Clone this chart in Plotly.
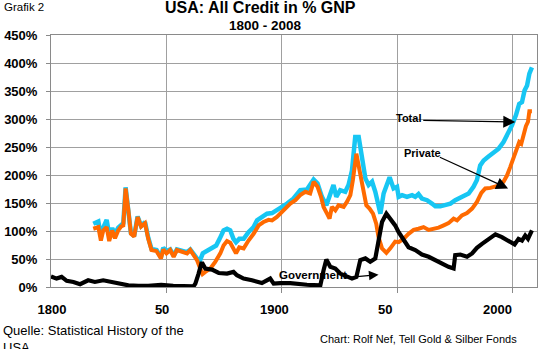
import plotly.graph_objects as go

# ---------------- data ----------------
total_years = [1818.3,1820.5,1821.6,1822.6,1824.1,1825.2,1826.5,1827.7,1829.1,1830.3,
               1831.3,1832.3,1833.5,1834.6,1836.0,1837.5,1839.0,1840.7,1842.1,1843.5,
               1845.7,1847.6,1848.6,1850.0,1851.6,1853.1,1854.5,1856.7,1858.9,1860.3,
               1861.7,1863.2,1864.3,1865.7,1867.9,1870.0,1871.5,1873.0,1874.7,1876.2,
               1877.6,1879.0,1880.1,1881.5,1883.4,1885.5,1887.7,1889.2,1891.3,1893.5,
               1895.7,1897.8,1899.3,1902.2,1905.0,1907.9,1910.8,1913.7,1915.4,1917.3,
               1919.2,1920.9,1922.3,1923.5,1925.2,1927.4,1928.8,1930.3,1931.7,1933.2,
               1934.6,1936.1,1937.5,1939.0,1940.4,1941.8,1942.6,1944.0,1945.5,1946.6,
               1948.3,1949.8,1950.5,1952.0,1954.1,1956.3,1957.7,1959.1,1960.6,1962.8,
               1964.9,1966.4,1968.5,1970.7,1972.9,1975.0,1977.9,1980.8,1982.9,1984.4,
               1985.8,1987.3,1989.4,1991.6,1993.8,1995.9,1997.8,1999.6,2001.3,2002.7,
               2003.9,2005.0,2006.1,2007.1,2008.2]
total_vals = [113,117,90,106,120,92,105,95,106,112,
              114,178,138,96,91,126,109,116,88,68,
              66,53,70,64,67,56,67,64,62,67,
              60,52,45,60,66,70,74,86,101,104,
              101,86,80,86,86,98,107,119,125,131,
              132,137,140,149,158,173,174,192,185,161,
              146,167,182,161,173,170,182,208,268,268,
              226,194,182,188,170,149,131,167,185,196,
              176,179,161,164,161,164,161,166,158,155,
              149,144,144,146,149,155,161,167,179,191,
              217,226,233,241,247,259,274,289,307,327,
              330,351,360,381,392]

private_years = [1818.3,1820.5,1821.6,1822.6,1824.1,1825.2,1826.5,1827.7,1829.1,1830.3,
                 1831.3,1832.3,1833.5,1834.6,1836.0,1837.5,1839.0,1840.7,1842.1,1843.5,
                 1845.7,1847.6,1848.6,1850.0,1851.6,1853.1,1854.5,1856.7,1858.9,1860.3,
                 1861.7,1863.2,1864.6,1865.6,1866.8,1869.0,1871.1,1873.3,1874.7,1876.2,
                 1877.6,1879.0,1880.1,1881.5,1883.4,1885.5,1887.7,1889.9,1892.0,1894.2,
                 1895.7,1897.8,1899.3,1901.4,1903.6,1905.8,1907.9,1910.1,1912.2,1913.7,
                 1915.4,1916.9,1918.0,1919.5,1920.6,1921.6,1923.1,1924.5,1926.7,1928.1,
                 1929.6,1930.7,1932.2,1933.6,1935.1,1936.5,1937.9,1939.4,1940.8,1941.8,
                 1943.3,1945.2,1946.9,1949.0,1950.5,1952.6,1954.8,1957.0,1959.1,1961.3,
                 1963.5,1965.6,1967.8,1970.0,1972.1,1974.3,1975.8,1977.9,1980.1,1982.3,
                 1984.4,1986.3,1988.0,1990.2,1992.4,1994.5,1995.9,1997.4,1998.8,2000.3,
                 2001.7,2002.7,2003.6,2004.6,2005.6,2006.5,2007.1,2008.2]
private_vals = [104,107,83,101,107,82,101,87,101,108,
                110,176,137,95,90,125,108,114,86,66,
                64,51,67,60,66,54,66,63,60,66,
                57,48,33,23,27,33,45,60,74,82,
                79,69,60,71,69,83,95,110,116,120,
                119,125,131,140,149,155,164,170,167,188,
                179,161,143,131,122,143,137,146,143,152,
                164,191,238,208,179,146,140,131,113,89,
                69,61,69,81,80,86,95,102,104,107,
                102,104,106,110,114,122,119,128,132,140,
                152,168,176,177,179,182,188,199,214,232,
                244,259,256,274,287,295,314,314]

gov_years = [1800,1802.4,1804.6,1806.8,1809.7,1812.6,1816.1,1819.0,1822.6,1826.2,
             1829.9,1833.5,1837.8,1842.1,1847.7,1852.9,1861.7,1862.5,1863.9,1865.1,
             1865.6,1866.8,1869.7,1872.6,1876.2,1879.0,1880.5,1883.4,1887.0,1891.3,
             1894.9,1896.4,1899.3,1903.6,1910.8,1916.6,1918.0,1919.2,1920.9,1923.1,
             1925.2,1928.1,1930.3,1932.2,1933.9,1936.1,1938.2,1940.4,1941.8,1943.3,
             1945.2,1946.9,1949.0,1950.5,1952.6,1954.8,1957.7,1960.6,1963.5,1966.4,
             1969.3,1972.1,1974.3,1975.0,1977.2,1980.1,1982.3,1984.4,1986.6,1989.4,
             1992.4,1995.2,1998.8,2000.7,2002.4,2003.9,2005.3,2006.5,2008.2]
gov_vals = [19,15,18,11,9,5,12,9,12,9,
            6,3,2,2,4,2,1,6,24,42,
            42,33,31,25,24,27,21,15,12,7,
            15,6,7,7,4,3,30,49,36,33,
            24,18,15,18,48,51,45,51,80,116,
            131,122,110,98,83,71,66,58,54,48,
            41,36,33,57,58,54,60,70,77,85,
            94,89,80,76,86,83,92,86,101]

x_tick_text = ["1800", "50", "1900", "50", "2000"]
x_grid_years = [1850, 1900, 1950, 2000]

# ---------------- layout constants ----------------
FONT = "Liberation Sans, Arial, sans-serif"
W, H = 539, 349
ML, MR, MT, MB = 51, 2, 35, 62
PW, PH = W - ML - MR, H - MT - MB
X_RANGE = [1800, 2010.4]
# tick labels in the original sit a little left of the grid lines
x_tick_pos = [1800.4, 1848.1, 1896.7, 1944.7, 1993.3]
GRID = "#a0a0a0"
AXIS = "#8a8a8a"


def px(x):
    return (x - ML) / PW


def py(y):
    return (H - MB - y) / PH


fig = go.Figure()
fig.add_trace(go.Scatter(x=total_years, y=total_vals, mode="lines", name="Total",
                         line=dict(color="#17C6F3", width=4.5)))
fig.add_trace(go.Scatter(x=private_years, y=private_vals, mode="lines", name="Private",
                         line=dict(color="#FF6A00", width=4)))
fig.add_trace(go.Scatter(x=gov_years, y=gov_vals, mode="lines", name="Government",
                         line=dict(color="#000000", width=4.2)))

fig.update_layout(
    width=W, height=H,
    margin=dict(l=ML, r=MR, t=MT, b=MB),
    paper_bgcolor="white", plot_bgcolor="white",
    showlegend=False,
    font=dict(family=FONT, color="black"),
    xaxis=dict(range=X_RANGE, tickmode="array", tickvals=x_tick_pos, ticktext=x_tick_text,
               showgrid=False, zeroline=False, ticks="",
               tickfont=dict(size=13, weight="bold", family=FONT),
               ticklabelstandoff=10,
               showline=True, linecolor=AXIS, linewidth=1, mirror=True,
               minor=dict(tickmode="array", tickvals=x_grid_years, showgrid=True,
                          gridcolor=GRID, gridwidth=1, ticks="outside", ticklen=5,
                          tickcolor=AXIS)),
    yaxis=dict(range=[0, 450], tickmode="linear", tick0=0, dtick=50, ticksuffix="%",
               showgrid=True, gridcolor=GRID, gridwidth=1, zeroline=False,
               tickfont=dict(size=13, weight="bold", family=FONT),
               ticks="outside", ticklen=4, tickcolor=AXIS,
               ticklabelstandoff=6,
               showline=True, linecolor=AXIS, linewidth=1, mirror=True),
)

ann = []
# titles and notes (positions given in figure pixels, converted to paper coords)
ann.append(dict(text="<b>USA: All Credit in % GNP</b>", x=px(260), y=py(8),
                xref="paper", yref="paper", xanchor="center", yanchor="middle",
                showarrow=False, font=dict(size=16, family=FONT)))
ann.append(dict(text="<b>1800 - 2008</b>", x=px(265), y=py(25.5),
                xref="paper", yref="paper", xanchor="center", yanchor="middle",
                showarrow=False, font=dict(size=13.5, family=FONT)))
ann.append(dict(text="Grafik 2", x=px(2), y=py(7.5), xref="paper", yref="paper",
                xanchor="left", yanchor="middle", showarrow=False,
                font=dict(size=11.5, family=FONT)))
ann.append(dict(text="Quelle: Statistical History of the<br>USA", x=px(1), y=py(321),
                xref="paper", yref="paper", xanchor="left", yanchor="top", align="left",
                showarrow=False, font=dict(size=13, family=FONT)))
ann.append(dict(text="Chart: Rolf Nef, Tell Gold & Silber Fonds", x=px(519), y=py(339),
                xref="paper", yref="paper", xanchor="right", yanchor="middle",
                showarrow=False, font=dict(size=11, family=FONT)))
# series labels
ann.append(dict(text="<b>Total</b>", x=1954.7, y=301, xref="x", yref="y",
                showarrow=False, font=dict(size=11, family=FONT)))
ann.append(dict(text="<b>Private</b>", x=1960.7, y=239, xref="x", yref="y",
                showarrow=False, font=dict(size=11, family=FONT)))
ann.append(dict(text="<b>Government</b>", x=1913.6, y=22, xref="x", yref="y",
                showarrow=False, font=dict(size=11.5, family=FONT)))
# arrows
for (tx, ty, hx, hy, sz) in [(1960.5, 297.5, 2001.0, 294.6, 2.0),
                             (1967.7, 233.0, 1997.9, 176.0, 2.0),
                             (1926.0, 16.0, 1941.8, 22.0, 1.6)]:
    ann.append(dict(text="", x=hx, y=hy, ax=tx, ay=ty, xref="x", yref="y",
                    axref="x", ayref="y", showarrow=True, arrowhead=2,
                    arrowsize=sz, arrowwidth=1.2, arrowcolor="black",
                    standoff=0, startstandoff=0))
fig.update_layout(annotations=ann)

fig.write_html("out.html")
